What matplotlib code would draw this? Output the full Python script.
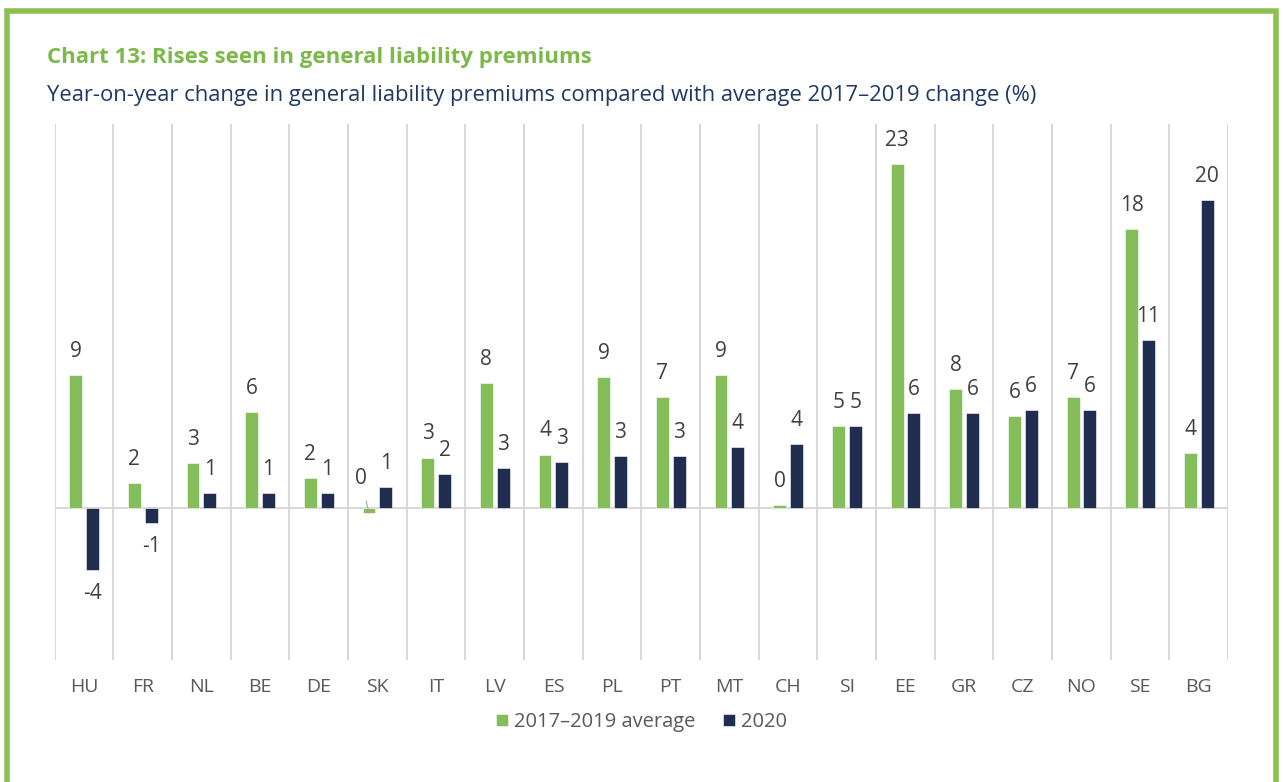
import numpy as np
import matplotlib
matplotlib.use("Agg")
import matplotlib.pyplot as plt
from matplotlib.patches import Rectangle

plt.rcParams['font.family'] = ['Open Sans', 'DejaVu Sans']

countries = ["HU", "FR", "NL", "BE", "DE", "SK", "IT", "LV", "ES", "PL",
             "PT", "MT", "CH", "SI", "EE", "GR", "CZ", "NO", "SE", "BG"]
avg_2017_2019 = [8.75, 1.64, 2.96, 6.3, 1.97, -0.33, 3.3, 8.2, 3.5, 8.6,
                 7.3, 8.75, 0.2, 5.4, 22.6, 7.8, 6.05, 7.3, 18.3, 3.6]
y2020 = [-4.08, -0.99, 0.99, 0.99, 0.99, 1.38, 2.2, 2.6, 3.0, 3.4,
         3.4, 4.0, 4.2, 5.4, 6.2, 6.2, 6.4, 6.4, 11.05, 20.2]
series_names = ["2017\u20132019 average", "2020"]

green = "#84BD5A"
navy = "#1F2D4F"
grid_col = "#D9D9D9"
label_col = "#404040"
tick_col = "#595959"

fig = plt.figure(figsize=(12.83, 7.82), dpi=100)

# green frame round the chart
fig.patches.append(Rectangle((7 / 1283, -0.05), 1 - 14 / 1283, 1.05 - 11 / 782,
                             transform=fig.transFigure, fill=False,
                             edgecolor="#8CC152", linewidth=4))

fig.text(47 / 1283, 1 - 58 / 782, "Chart 13: Rises seen in general liability premiums",
         color="#7DB94A", fontsize=16, fontweight="bold", va="center")
fig.text(47 / 1283, 1 - 95 / 782,
         "Year-on-year change in general liability premiums compared with average 2017\u20132019 change (%)",
         color="#1F3864", fontsize=15.8, va="center")

ax = fig.add_axes([54.7 / 1283, 0.156, 0.9146, 0.685])
x = np.arange(len(countries))
w = 0.22
off = 0.143
b1 = ax.bar(x - off, avg_2017_2019, w, color=green, edgecolor="white", linewidth=0.4,
            label=series_names[0], zorder=3)
b2 = ax.bar(x + off, y2020, w, color=navy, edgecolor="white", linewidth=0.4,
            label=series_names[1], zorder=3)

ax.set_xlim(-0.5, len(countries) - 0.5)
ax.set_ylim(-10, 25.2)
ax.set_xticks(x)
ax.set_xticklabels(countries)
ax.set_xticks(np.arange(-0.5, len(countries), 1), minor=True)
ax.set_yticks([])
ax.tick_params(axis="x", which="both", length=0, pad=13, labelsize=14, labelcolor=tick_col)
ax.grid(which="minor", axis="x", color=grid_col, linewidth=1.5, zorder=0)
ax.axhline(0, color=grid_col, linewidth=1.5, zorder=1)
for s in ax.spines.values():
    s.set_visible(False)

for bars, vals in ((b1, avg_2017_2019), (b2, y2020)):
    for i, (b, v) in enumerate(zip(bars, vals)):
        cx = b.get_x() + b.get_width() / 2
        txt = "%.0f" % abs(v) if round(v) == 0 else "%.0f" % v
        if countries[i] == "SK" and bars is b1:
            # label moved up with a short leader line
            ax.annotate(txt, xy=(cx, v), xytext=(-6, 25), textcoords="offset points",
                        ha="center", va="center", fontsize=15, color=label_col,
                        arrowprops=dict(arrowstyle="-", color="#A6A6A6", lw=0.8,
                                        shrinkA=7, shrinkB=0))
            continue
        dy = 17 if v >= 0 else -17
        ax.annotate(txt, xy=(cx, v), xytext=(0, dy), textcoords="offset points",
                    ha="center", va="center", fontsize=15, color=label_col)

leg = fig.legend(handles=[b1, b2], labels=series_names, loc="center",
                 bbox_to_anchor=(0.5, 1 - 722 / 782), ncol=2, frameon=False,
                 fontsize=14.5, handlelength=0.6, handleheight=0.6, handletextpad=0.3,
                 columnspacing=1.4, labelcolor=tick_col)

plt.savefig("out.png", dpi=100)
